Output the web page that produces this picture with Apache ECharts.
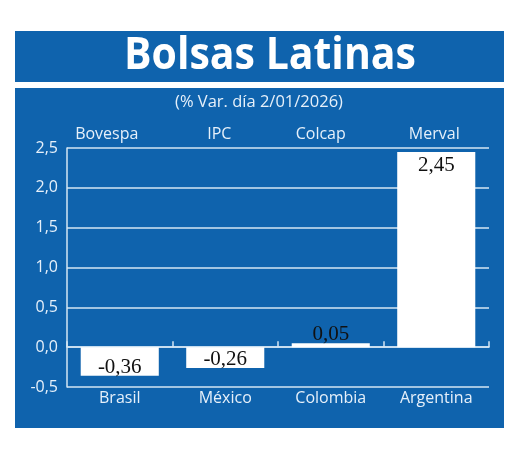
<!DOCTYPE html>
<html>
<head>
<meta charset="utf-8">
<script src="https://cdn.jsdelivr.net/npm/echarts@6/dist/echarts.min.js"></script>
<style>html,body{margin:0;padding:0;background:#fff}#c{width:520px;height:451px}</style>
</head>
<body>
<div id="c"></div>
<script>
var countries = ['Brasil', 'México', 'Colombia', 'Argentina'];
var indices = ['Bovespa', 'IPC', 'Colcap', 'Merval'];
var values = [-0.36, -0.26, 0.05, 2.45];
var titleText = 'Bolsas Latinas';
var subtitleText = '(% Var. día 2/01/2026)';

var BLUE = '#0f63ad';
var LINE = '#d5e6f5';
var LIGHT = '#e6f0fa';
var fmt = function (v, d) { return v.toFixed(d).replace('.', ','); };

var labelPos = values.map(function (v) {
  if (v < 0) return { position: 'insideBottom', distance: 0, offset: [0, 1] };
  if (v < 0.3) return { position: 'top', distance: 0 };
  return { position: 'insideTop', distance: 5 };
});
var topShift = [26, 12, 20, 4];

var chart = echarts.init(document.getElementById('c'));
chart.setOption({
  backgroundColor: '#ffffff',
  animation: false,
  graphic: [
    { type: 'rect', z: -10, shape: { x: 15, y: 31, width: 489, height: 51 }, style: { fill: BLUE } },
    { type: 'rect', z: -10, shape: { x: 15, y: 88, width: 489, height: 340 }, style: { fill: BLUE } },
    { type: 'text', z: 10, x: 270, y: 56, scaleY: 1.08, originX: 0, originY: 0, style: { text: titleText, fill: '#ffffff', font: 'bold 41px "Open Sans"', align: 'center', verticalAlign: 'middle' } },
    { type: 'text', z: 10, x: 259, y: 102, style: { text: subtitleText, fill: LIGHT, font: '16.5px "Open Sans"', align: 'center', verticalAlign: 'middle' } }
  ],
  grid: { left: 67, right: 31, top: 148, bottom: 64, containLabel: false },
  xAxis: [
    {
      type: 'category', position: 'bottom', data: countries,
      axisLine: { show: false, onZero: false }, axisTick: { show: false },
      axisLabel: { color: LIGHT, fontFamily: 'Open Sans', fontSize: 16, margin: 3 }
    },
    {
      type: 'category', position: 'top', data: indices.map(function (n, i) {
        return { value: n, textStyle: { padding: [0, topShift[i], 0, 0] } };
      }),
      axisLine: { show: false, onZero: false }, axisTick: { show: false },
      axisLabel: { color: LIGHT, fontFamily: 'Open Sans', fontSize: 16, margin: 6 }
    },
    {
      type: 'category', position: 'bottom', data: countries,
      axisLine: { show: true, onZero: true, onZeroAxisIndex: 0, lineStyle: { color: LINE, width: 1.5 } },
      axisTick: { show: true, inside: true, length: 6, lineStyle: { color: LINE, width: 1.5 } },
      axisLabel: { show: false }
    }
  ],
  yAxis: {
    type: 'value', min: -0.5, max: 2.5, interval: 0.5,
    axisLine: { show: true, onZero: false, lineStyle: { color: LINE, width: 1.5 } },
    axisTick: { show: false },
    splitLine: { show: true, lineStyle: { color: LINE, width: 1.5 } },
    axisLabel: { color: LIGHT, fontFamily: 'Open Sans', fontSize: 16, margin: 9, formatter: function (v) { return fmt(v, 1); } }
  },
  series: [{
    type: 'bar',
    xAxisIndex: 0,
    barWidth: '74%',
    z: 3,
    itemStyle: { color: '#ffffff' },
    data: values.map(function (v, i) {
      return { value: v, label: labelPos[i] };
    }),
    label: {
      show: true, color: '#111111', fontFamily: 'Liberation Serif', fontSize: 21, lineHeight: 18,
      formatter: function (p) { return fmt(p.value, 2); }
    }
  }]
});
</script>
</body>
</html>
